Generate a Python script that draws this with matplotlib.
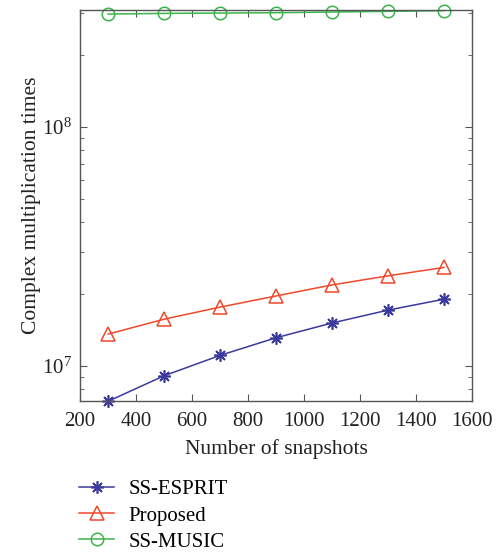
import numpy as np
import matplotlib.pyplot as plt
from matplotlib.ticker import LogLocator, NullFormatter, FixedLocator

# --- data --- #
snapshots = [300, 500, 700, 900, 1100, 1300, 1500]
ss_esprit = [7.1e6, 9.08e6, 1.105e7, 1.31e7, 1.51e7, 1.71e7, 1.90e7]
proposed = [1.357e7, 1.567e7, 1.76e7, 1.96e7, 2.18e7, 2.38e7, 2.58e7]
ss_music = [2.97e8, 2.99e8, 3.00e8, 3.01e8, 3.03e8, 3.05e8, 3.07e8]
x_ticks = [200, 400, 600, 800, 1000, 1200, 1400, 1600]

plt.rcParams['font.family'] = ['Liberation Serif', 'DejaVu Serif']
plt.rcParams['mathtext.fontset'] = 'custom'
plt.rcParams['mathtext.rm'] = 'Liberation Serif'
plt.rcParams['font.size'] = 15

fig = plt.figure(figsize=(5.01, 5.52), dpi=100)
ax = fig.add_axes([0.16, 0.2736, 0.782, 0.7083])

ax.plot(snapshots, ss_esprit, color='#3b3a9c', marker=(8, 2, 0), markersize=9,
        markeredgewidth=1.2, linewidth=1.1,
        label='SS-ESPRIT', clip_on=False)
ax.plot(snapshots, proposed, color='#f0482b', marker='^', markersize=10,
        markerfacecolor='none', markeredgewidth=1.1, linewidth=1.1,
        label='Proposed', clip_on=False)
ax.plot(snapshots, ss_music, color='#3cb44b', marker='o', markersize=9,
        markerfacecolor='none', markeredgewidth=1.1, linewidth=1.1,
        label='SS-MUSIC', clip_on=False)

ax.set_yscale('log')
ax.set_xlim(200, 1600)
ax.set_ylim(7.12e6, 3.09e8)
ax.xaxis.set_major_locator(FixedLocator(x_ticks))
ax.yaxis.set_major_locator(LogLocator(base=10))
ax.yaxis.set_minor_locator(LogLocator(base=10, subs=np.arange(2, 10)))
ax.yaxis.set_minor_formatter(NullFormatter())

for s in ax.spines.values():
    s.set_color('#555555')
    s.set_linewidth(1.0)
ax.tick_params(which='both', direction='in', top=True, right=True,
               color='#555555', labelcolor='#222222')
ax.tick_params(which='major', length=5)
ax.tick_params(which='minor', length=3)
ax.tick_params(axis='x', which='major', pad=8)
ax.tick_params(axis='y', which='major', pad=6)

ax.set_xlabel('Number of snapshots', color='#222222', fontsize=15.5,
              labelpad=6)
ax.set_ylabel('Complex multiplication times', color='#222222', fontsize=15.5,
              labelpad=1)

ax.legend(loc='upper left', bbox_to_anchor=(-0.023, -0.18), frameon=False,
          handlelength=1.65, handletextpad=0.72, labelspacing=0.32,
          borderaxespad=0)

fig.savefig('out.png', dpi=100)
